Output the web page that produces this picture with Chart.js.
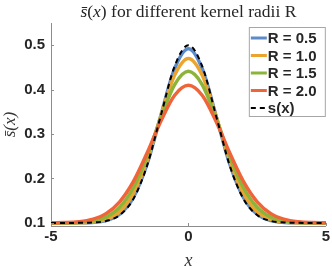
<!DOCTYPE html>
<html>
<head>
<meta charset="utf-8">
<script src="https://cdn.jsdelivr.net/npm/chart.js@4"></script>
<style>
  html, body { margin: 0; padding: 0; background: #fff; }
  #wrap { width: 332px; height: 266px; }
</style>
</head>
<body>
<div id="wrap"><canvas id="kernelChart"></canvas></div>
<script>
const xValues = [-5, -4.5, -4, -3.5, -3, -2.5, -2, -1.5, -1, -0.5, 0, 0.5, 1, 1.5, 2, 2.5, 3, 3.5, 4, 4.5, 5];
const sR05 = [0.1000, 0.1000, 0.1002, 0.1011, 0.1052, 0.1195, 0.1575, 0.2331, 0.3425, 0.4476, 0.4919, 0.4476, 0.3425, 0.2331, 0.1575, 0.1195, 0.1052, 0.1011, 0.1002, 0.1000, 0.1000];
const sR10 = [0.1000, 0.1001, 0.1004, 0.1019, 0.1078, 0.1254, 0.1667, 0.2412, 0.3412, 0.4327, 0.4703, 0.4327, 0.3412, 0.2412, 0.1667, 0.1254, 0.1078, 0.1019, 0.1004, 0.1001, 0.1000];
const sR15 = [0.1000, 0.1002, 0.1010, 0.1040, 0.1129, 0.1351, 0.1797, 0.2505, 0.3371, 0.4115, 0.4411, 0.4115, 0.3371, 0.2505, 0.1797, 0.1351, 0.1129, 0.1040, 0.1010, 0.1002, 0.1000];
const sR20 = [0.1002, 0.1007, 0.1025, 0.1078, 0.1208, 0.1475, 0.1933, 0.2578, 0.3295, 0.3874, 0.4098, 0.3874, 0.3295, 0.2578, 0.1933, 0.1475, 0.1208, 0.1078, 0.1025, 0.1007, 0.1002];
const sTrue = [0.1000, 0.1000, 0.1001, 0.1009, 0.1044, 0.1176, 0.1541, 0.2299, 0.3426, 0.4530, 0.5000, 0.4530, 0.3426, 0.2299, 0.1541, 0.1176, 0.1044, 0.1009, 0.1001, 0.1000, 0.1000];

const seriesLabels = ['R = 0.5', 'R = 1.0', 'R = 1.5', 'R = 2.0', 's(x)'];
const xTicks = [-5, 0, 5];
const yTicks = [0.1, 0.2, 0.3, 0.4, 0.5];

const colors = ['#5b8bcb', '#eba52e', '#8cb43a', '#f0643a', '#000000'];
const tickFont = { family: '"Liberation Sans", Arial, sans-serif', size: 15, weight: 'bold' };
const serif = '"Liberation Serif", "Times New Roman", serif';

function pts(ys) {
  return xValues.map((x, i) => ({ x: x, y: ys[i] }));
}

// title centred over the plot area, mixed italic/upright like the LaTeX one
const titlePlugin = {
  id: 'mathTitle',
  afterDraw(chart) {
    const ctx = chart.ctx;
    const parts = [
      ['italic', 's\u0304'], ['normal', '('], ['italic', 'x'], ['normal', ')'],
      ['normal', ' for different kernel radii R']
    ];
    ctx.save();
    let total = 0;
    parts.forEach(p => { ctx.font = p[0] + ' 17.5px ' + serif; total += ctx.measureText(p[1]).width; });
    let x = (chart.chartArea.left + chart.chartArea.right) / 2 - total / 2;
    ctx.fillStyle = '#262626';
    ctx.textBaseline = 'middle';
    parts.forEach(p => {
      ctx.font = p[0] + ' 17.5px ' + serif;
      ctx.fillText(p[1], x, 12);
      x += ctx.measureText(p[1]).width;
    });
    ctx.restore();
  }
};

// inward tick marks like matlab
const innerTicks = {
  id: 'innerTicks',
  afterDatasetsDraw(chart) {
    const ctx = chart.ctx;
    const a = chart.chartArea;
    const xs = chart.scales.x, ys = chart.scales.y;
    ctx.save();
    ctx.strokeStyle = '#8c8c8c';
    ctx.lineWidth = 1;
    ctx.beginPath();
    xTicks.forEach(v => {
      const px = Math.round(xs.getPixelForValue(v)) + 0.5;
      ctx.moveTo(px, a.bottom); ctx.lineTo(px, a.bottom - 3);
    });
    yTicks.forEach(v => {
      const py = Math.round(ys.getPixelForValue(v)) + 0.5;
      ctx.moveTo(a.left, py); ctx.lineTo(a.left + 3, py);
    });
    ctx.stroke();
    ctx.restore();
  }
};

const legendPlugin = {
  id: 'boxLegend',
  afterDraw(chart) {
    const ctx = chart.ctx;
    const a = chart.chartArea;
    const w = 77, h = 90, rowH = 17.5;
    const left = a.right - w, top = a.top + 4;
    ctx.save();
    ctx.fillStyle = '#fff';
    ctx.fillRect(left, top, w, h);
    ctx.strokeStyle = '#a6a6a6';
    ctx.lineWidth = 1;
    ctx.strokeRect(left + 0.5, top + 0.5, w - 1, h - 1);
    ctx.font = 'bold 15px "Liberation Sans", Arial, sans-serif';
    ctx.textBaseline = 'middle';
    chart.data.datasets.forEach((ds, i) => {
      const y = top + 11 + i * rowH;
      ctx.strokeStyle = ds.borderColor;
      ctx.lineWidth = ds.borderDash ? 2 : 3;
      ctx.setLineDash(ds.borderDash || []);
      ctx.beginPath();
      ctx.moveTo(left + 2, y); ctx.lineTo(left + 18, y);
      ctx.stroke();
      ctx.setLineDash([]);
      ctx.fillStyle = '#262626';
      ctx.fillText(ds.label, left + 19, y + 1);
    });
    ctx.restore();
  }
};

const allSeries = [sR05, sR10, sR15, sR20, sTrue];

new Chart(document.getElementById('kernelChart'), {
  type: 'line',
  data: {
    datasets: allSeries.map((ys, i) => ({
      label: seriesLabels[i],
      data: pts(ys),
      borderColor: colors[i],
      borderWidth: i === 4 ? 2 : 3.5,
      borderDash: i === 4 ? [5, 4] : undefined,
      pointRadius: 0,
      cubicInterpolationMode: 'monotone',
      order: 4 - i,
      fill: false
    }))
  },
  options: {
    responsive: true,
    maintainAspectRatio: false,
    animation: false,
    layout: { padding: { top: 23, right: 5, left: 0, bottom: 0 } },
    plugins: {
      legend: { display: false },
      title: { display: false },
      tooltip: { enabled: false }
    },
    scales: {
      x: {
        type: 'linear',
        min: -5,
        max: 5,
        afterBuildTicks: s => { s.ticks = xTicks.map(v => ({ value: v })); },
        afterFit: s => { s.height = 40; },
        grid: { display: false, drawTicks: false },
        border: { color: '#8c8c8c' },
        ticks: { font: tickFont, color: '#262626', padding: 2, maxRotation: 0 },
        title: {
          display: true,
          text: 'x',
          font: { family: serif, size: 18, style: 'italic', lineHeight: 1 },
          color: '#333',
          padding: { top: 0, bottom: -4 }
        }
      },
      y: {
        min: 0.093,
        max: 0.55,
        afterBuildTicks: s => { s.ticks = yTicks.map(v => ({ value: v })); },
        afterFit: s => { s.width = 51; },
        grid: { display: false, drawTicks: false },
        border: { color: '#8c8c8c' },
        ticks: {
          font: tickFont,
          color: '#262626',
          padding: 6,
          callback: v => v.toFixed(1)
        },
        title: {
          display: true,
          text: 's\u0304(x)',
          font: { family: serif, size: 17, style: 'italic' },
          color: '#333',
          padding: { top: 0, bottom: 0 }
        }
      }
    }
  },
  plugins: [titlePlugin, innerTicks, legendPlugin]
});
</script>
</body>
</html>
